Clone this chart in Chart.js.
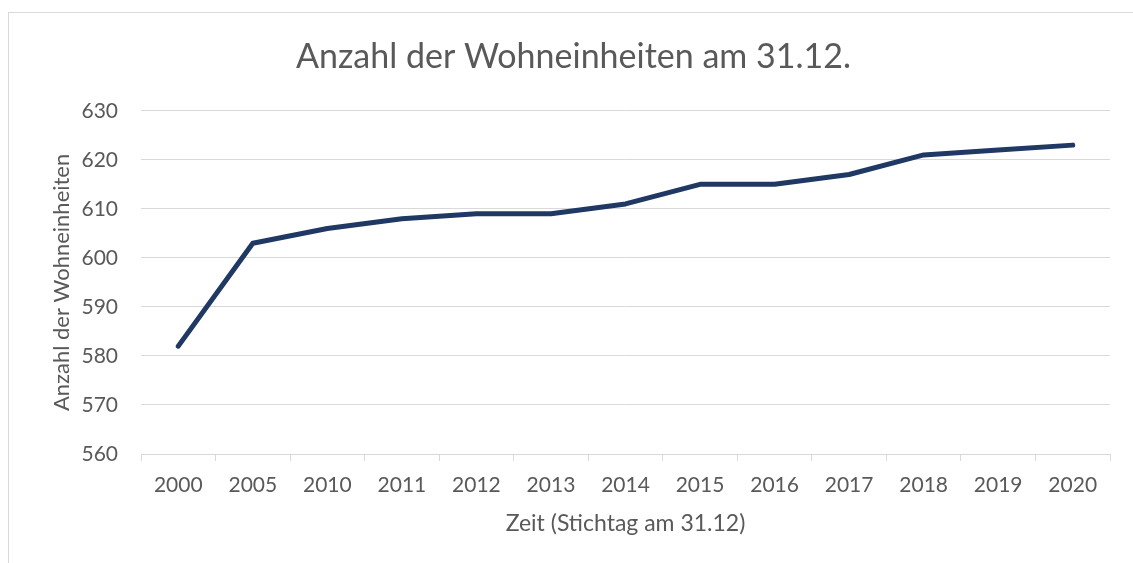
<!DOCTYPE html>
<html>
<head>
<meta charset="utf-8">
<script src="https://cdn.jsdelivr.net/npm/chart.js@4/dist/chart.umd.min.js"></script>
<style>
  html, body { margin: 0; padding: 0; background: #fff; }
  #wrap { width: 1133px; height: 563px; }
</style>
</head>
<body>
<div id="wrap"><canvas id="chart" width="1133" height="563"></canvas></div>
<script>
const years = ['2000', '2005', '2010', '2011', '2012', '2013', '2014', '2015', '2016', '2017', '2018', '2019', '2020'];
const units = [582, 603, 606, 608, 609, 609, 611, 615, 615, 617, 621, 622, 623];
const yMin = 560;
const yMax = 630;
const yStep = 10;

const textColor = '#595959';
const gridColor = '#d9d9d9';
const fontFamily = 'Lato, "Open Sans", sans-serif';

// light frame round the chart, like the office chart area
const frame = {
    id: 'frame',
    beforeDraw(chart) {
        const ctx = chart.ctx;
        ctx.save();
        ctx.strokeStyle = '#d9d9d9';
        ctx.lineWidth = 1;
        ctx.strokeRect(8.5, 12.5, 1200, 600);
        ctx.restore();
    }
};

new Chart(document.getElementById('chart'), {
    type: 'line',
    data: {
        labels: years,
        datasets: [{
            label: 'Anzahl der Wohneinheiten',
            data: units,
            borderColor: '#1f3864',
            backgroundColor: '#1f3864',
            borderWidth: 5,
            pointRadius: 0,
            tension: 0,
            borderCapStyle: 'round',
            borderJoinStyle: 'round'
        }]
    },
    options: {
        responsive: false,
        animation: false,
        layout: { padding: { left: 37, right: 23, top: 0, bottom: 0 } },
        plugins: {
            legend: { display: false },
            tooltip: { enabled: false },
            title: {
                display: true,
                text: 'Anzahl der Wohneinheiten am 31.12.',
                color: textColor,
                font: { family: fontFamily, size: 34, weight: 'normal' },
                padding: { top: 37, bottom: 33 }
            }
        },
        scales: {
            x: {
                offset: true,
                grid: {
                    offset: true,
                    drawOnChartArea: false,
                    drawTicks: true,
                    tickLength: 7,
                    color: gridColor
                },
                border: { display: true, color: gridColor, width: 1 },
                ticks: {
                    color: textColor,
                    padding: 12,
                    maxRotation: 0,
                    font: { family: fontFamily, size: 21 }
                },
                title: {
                    display: true,
                    text: 'Zeit (Stichtag am 31.12)',
                    color: textColor,
                    font: { family: fontFamily, size: 23 },
                    padding: { top: 0, bottom: 26 }
                },
                afterFit(scale) { scale.height = 109; }
            },
            y: {
                min: yMin,
                max: yMax,
                ticks: {
                    stepSize: yStep,
                    color: textColor,
                    padding: 23,
                    font: { family: fontFamily, size: 21 }
                },
                grid: { color: gridColor, drawTicks: false, lineWidth: 1 },
                border: { display: false },
                title: {
                    display: true,
                    text: 'Anzahl der Wohneinheiten',
                    color: textColor,
                    font: { family: fontFamily, size: 22 },
                    padding: { top: 12, bottom: 0 }
                },
                afterFit(scale) { scale.width = 104; }
            }
        }
    },
    plugins: [frame]
});
</script>
</body>
</html>
